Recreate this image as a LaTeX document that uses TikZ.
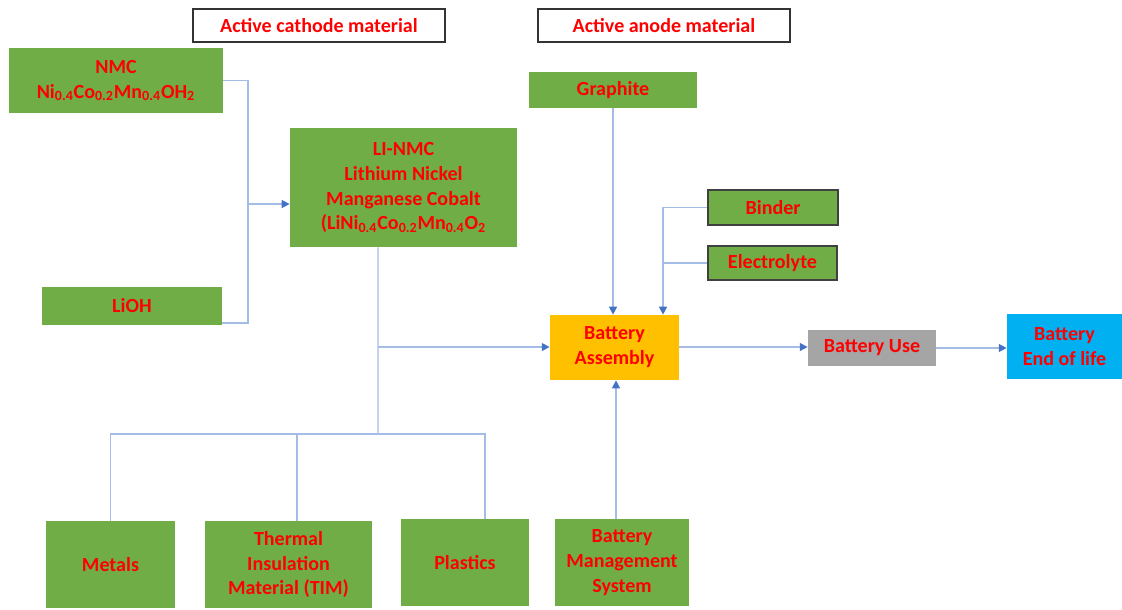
\documentclass[tikz,border=0pt]{standalone}
\usepackage{fontspec}
\setmainfont{Carlito}
\usetikzlibrary{arrows.meta}
\definecolor{boxgreen}{HTML}{70AD47}
\definecolor{boxorange}{HTML}{FFC000}
\definecolor{boxgray}{HTML}{A5A5A5}
\definecolor{boxblue}{HTML}{00B0F0}
\definecolor{linecol}{HTML}{A4BCE6}
\definecolor{tipcol}{HTML}{4472C4}
\definecolor{txtred}{HTML}{FF0000}
\begin{document}
\begin{tikzpicture}[
  every node/.style={font=\fontsize{11.4}{14.2}\selectfont\bfseries, text=txtred, align=center, inner sep=0pt},
  gbox/.style={fill=boxgreen},
  dbox/.style={fill=boxgreen, draw=black!75, line width=0.9pt},
  lbox/.style={draw=black!80, line width=0.8pt, fill=white},
  conn/.style={draw=linecol, line width=0.8pt},
  arr/.style={conn, -{Triangle[length=4.5pt,width=4.5pt,color=tipcol]}}
]
\useasboundingbox (0,0) rectangle (22.44,-12.18);
% labels
\node[lbox, minimum width=5.04cm, minimum height=0.66cm] (cath) at (6.38,-0.51) {Active cathode material};
\node[lbox, minimum width=5.04cm, minimum height=0.66cm] (anode) at (13.28,-0.51) {Active anode material};
% boxes
\node[gbox, minimum width=4.28cm, minimum height=1.30cm] (NMC) at (2.32,-1.61) {NMC\\Ni\textsubscript{0.4}Co\textsubscript{0.2}Mn\textsubscript{0.4}OH\textsubscript{2}};
\node[gbox, minimum width=3.60cm, minimum height=0.76cm] (LiOH) at (2.64,-6.12) {LiOH};
\node[gbox, minimum width=4.54cm, minimum height=2.38cm] (LINMC) at (8.07,-3.75) {LI-NMC\\Lithium Nickel\\Manganese Cobalt\\(LiNi\textsubscript{0.4}Co\textsubscript{0.2}Mn\textsubscript{0.4}O\textsubscript{2}};
\node[gbox, minimum width=3.36cm, minimum height=0.72cm] (Graphite) at (12.26,-1.80) {Graphite};
\node[dbox, minimum width=2.60cm, minimum height=0.70cm] (Binder) at (15.46,-4.15) {Binder};
\node[dbox, minimum width=2.58cm, minimum height=0.68cm] (Electrolyte) at (15.45,-5.26) {Electrolyte};
\node[fill=boxorange, minimum width=2.58cm, minimum height=1.30cm] (BA) at (12.29,-6.95) {Battery\\Assembly};
\node[fill=boxgray, minimum width=2.56cm, minimum height=0.72cm] (BU) at (17.44,-6.96) {Battery Use};
\node[fill=boxblue, minimum width=2.30cm, minimum height=1.30cm] (EOL) at (21.29,-6.93) {Battery\\End of life};
\node[gbox, minimum width=2.58cm, minimum height=1.74cm] (Metals) at (2.21,-11.29) {Metals};
\node[gbox, minimum width=3.34cm, minimum height=1.74cm] (TIM) at (5.77,-11.29) {Thermal\\Insulation\\Material (TIM)};
\node[gbox, minimum width=2.56cm, minimum height=1.74cm] (Plastics) at (9.30,-11.25) {Plastics};
\node[gbox, minimum width=2.68cm, minimum height=1.74cm] (BMS) at (12.44,-11.25) {Battery\\Management\\System};
% junctions
\coordinate (jc) at (4.96,-4.08);
\coordinate (jb) at (7.56,-6.94);
\coordinate (jd) at (7.56,-8.68);
\coordinate (ja) at (13.26,-4.15);
% connectors
\draw[conn] (NMC.east) -| (jc) |- ([yshift=-0.34cm]LiOH.east);
\draw[arr] (jc) -- (jc -| LINMC.west);
\draw[conn] ([xshift=-0.51cm]LINMC.south) -- (jd);
\draw[arr] (jb) -- (jb -| BA.west);
\draw[conn] ([xshift=0.40cm]Plastics.north) |- (Metals.north |- jd) -- (Metals.north);
\draw[conn] ([xshift=0.17cm]TIM.north) -- ([xshift=0.17cm]TIM.north |- jd);
\draw[arr] (Graphite.south) -- (Graphite.south |- BA.north);
\draw[arr] (Binder.west) -- (ja) -- (ja |- BA.north);
\draw[conn] (Electrolyte.west) -- (ja |- Electrolyte.west);
\draw[arr] (BA.east |- jb) -- (BU.west |- jb);
\draw[arr] (BU.east) -- (EOL.west |- BU.east);
\draw[arr] ([xshift=-0.12cm]BMS.north) -- ([xshift=-0.12cm]BMS.north |- BA.south);
\end{tikzpicture}
\end{document}
